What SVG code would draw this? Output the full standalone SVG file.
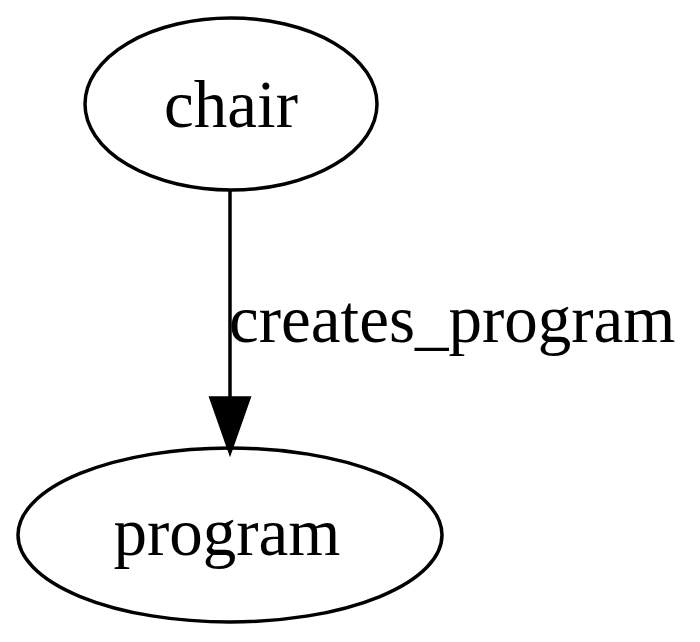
<svg xmlns="http://www.w3.org/2000/svg" width="700" height="642" viewBox="0 0 700 642">
<style>
.node ellipse{fill:none;stroke:#000;stroke-width:3.5}
text{font-family:"Liberation Serif","Times New Roman",serif;font-size:67px;fill:#000}
.edge line{stroke:#000;stroke-width:3.5}
</style>
<rect width="700" height="642" fill="#fff"/>
<g id="node-chair" class="node">
<ellipse cx="231" cy="104" rx="146" ry="86"/>
<text x="231" y="127" text-anchor="middle">chair</text>
</g>
<g id="node-program" class="node">
<ellipse cx="230" cy="535" rx="212" ry="87"/>
<text x="227" y="555" text-anchor="middle">program</text>
</g>
<g id="connectors" class="edge">
<line x1="230" y1="191" x2="230" y2="400"/>
<polygon points="211,398 249,398 230,452" fill="#000" stroke="#000" stroke-width="3.5"/>
<text x="229" y="342">creates_program</text>
</g>
</svg>
